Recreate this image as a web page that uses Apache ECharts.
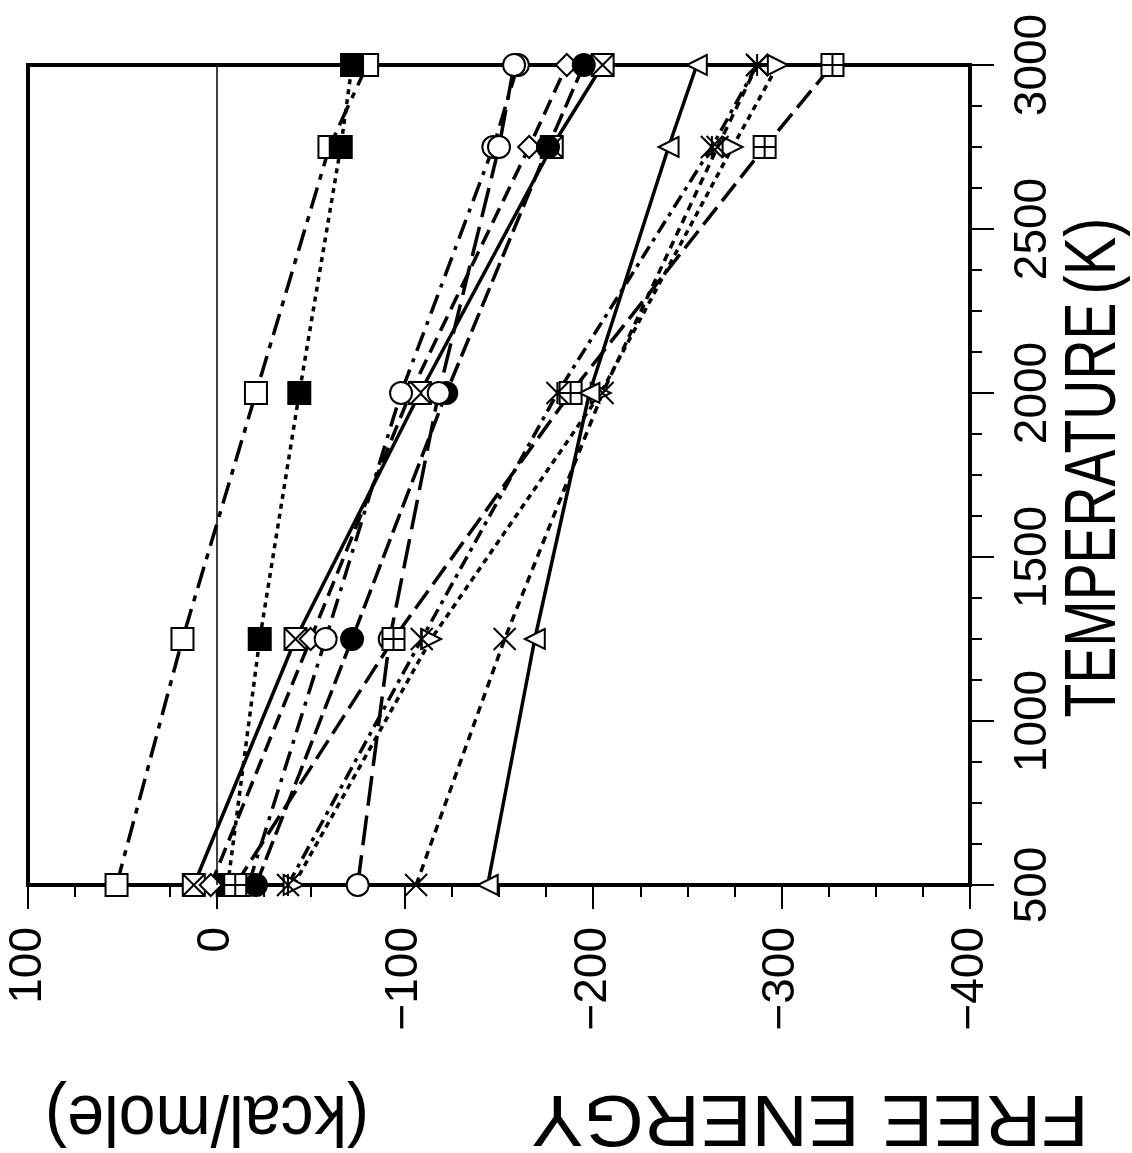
<!DOCTYPE html>
<html>
<head>
<meta charset="utf-8">
<script src="https://cdn.jsdelivr.net/npm/echarts@6/dist/echarts.min.js"></script>
<style>
  html, body { margin: 0; padding: 0; background: #fff; }
  #chart { width: 1132px; height: 1153px; }
</style>
</head>
<body>
<div id="chart"></div>
<script>
// temperatures (K) where free energies were computed
const temps = [500, 1250, 2000, 2750, 3000];

// free energy (kcal/mole) per curve
const openSquare   = [53, 18, -21, -60, -80];
const filledSquare = [-6, -23, -44, -66, -72];
const crossSquare  = [12, -42, -108, -178, -205];
const diamondE     = [3, -50, -103, -166, -186];
const openCircle   = [-17, -58, -98, -147, -160];
const filledCircle = [-21, -72, -122, -176, -195];
const ringCircle   = [-75, -92, -118, -150, -158];
const plusSquare   = [-10, -94, -188, -291, -327];
const triRight     = [-41, -114, -204, -274, -298];
const plusMark     = [-38, -109, -181, -263, -287];
const crossMark    = [-106, -153, -205, -266, -287];
const triLeft      = [-144, -169, -198, -240, -255];

const energyTicks = [100, 0, -100, -200, -300, -400];

const FONT = '"Liberation Sans", Arial, sans-serif';

function pts(vals) {
  return temps.map((t, i) => [vals[i], t]);
}

function curve(name, vals, symbol, fill, dash, size) {
  return {
    name: name,
    type: 'line',
    data: pts(vals),
    symbol: symbol,
    symbolSize: size || 22,
    clip: false,
    lineStyle: { color: '#000', width: 3.5, type: dash },
    itemStyle: { color: fill, borderColor: '#000', borderWidth: 2 }
  };
}

const SQ_X = 'path://M0,0L10,0L10,10L0,10Z M0,0L10,10 M10,0L0,10';
const SQ_P = 'path://M0,0L10,0L10,10L0,10Z M5,0L5,10 M0,5L10,5';
const TRI_R = 'path://M0,0L10,5L0,10Z';
const TRI_L = 'path://M10,0L0,5L10,10Z';
const XMARK = 'path://M0,0L10,10M10,0L0,10';
const STAR = 'path://M0,0L10,10M10,0L0,10M5,0L5,10';

const series = [
  curve('open square', openSquare, 'rect', '#fff', [22, 8, 6, 8]),
  curve('filled square', filledSquare, 'rect', '#000', [5, 5]),
  curve('crossed square', crossSquare, SQ_X, '#fff', 'solid'),
  curve('diamond', diamondE, 'diamond', '#fff', [16, 8]),
  curve('open circle', openCircle, 'circle', '#fff', [20, 8, 4, 8]),
  curve('filled circle', filledCircle, 'circle', '#000', [20, 7]),
  curve('ring circle', ringCircle, 'circle', '#fff', [30, 10]),
  curve('plus square', plusSquare, SQ_P, '#fff', [22, 8]),
  curve('triangle right', triRight, TRI_R, '#fff', [6, 5], 20),
  curve('star', plusMark, STAR, '#fff', [14, 6, 4, 6], 22),
  curve('cross', crossMark, XMARK, '#fff', [8, 6], 22),
  curve('triangle left', triLeft, TRI_L, '#fff', 'solid', 20)
];

// thin zero line
series[0].markLine = {
  silent: true,
  symbol: 'none',
  label: { show: false },
  lineStyle: { color: '#000', width: 1.5, type: 'solid' },
  data: [{ xAxis: 0 }]
};

const chart = echarts.init(document.getElementById('chart'));
const option = {
  backgroundColor: '#fff',
  animation: false,
  grid: {
    left: 28, right: 162, top: 65, bottom: 268,
    show: true, borderColor: '#000', borderWidth: 4
  },
  xAxis: {
    type: 'value',
    min: -400, max: 100, interval: 100,
    inverse: true,
    position: 'bottom',
    axisLine: { show: true, onZero: false, lineStyle: { color: '#000', width: 4 } },
    axisTick: { show: true, length: 24, lineStyle: { color: '#000', width: 2 } },
    minorTick: { show: true, splitNumber: 4, length: 12, lineStyle: { color: '#000', width: 2 } },
    splitLine: { show: false },
    axisLabel: {
      rotate: 90, margin: 42, fontSize: 46, fontFamily: FONT, color: '#000',
      formatter: v => energyTicks.includes(v) ? (v < 0 ? '\u2212' + Math.abs(v) : String(v)) : ''
    }
  },
  yAxis: {
    type: 'value',
    min: 500, max: 3000, interval: 500,
    position: 'right',
    axisLine: { show: true, onZero: false, lineStyle: { color: '#000', width: 4 } },
    axisTick: { show: true, length: 24, lineStyle: { color: '#000', width: 2 } },
    minorTick: { show: true, splitNumber: 4, length: 12, lineStyle: { color: '#000', width: 2 } },
    splitLine: { show: false },
    axisLabel: {
      rotate: 90, margin: 40, fontSize: 46, fontFamily: FONT, color: '#000',
      formatter: v => String(v)
    }
  },
  graphic: [
    {
      type: 'text', x: 1095, y: 510, rotation: Math.PI / 2, scaleX: 0.77,
      style: {
        text: 'TEMPERATURE', font: '72px ' + FONT, fill: '#000',
        textAlign: 'center', textVerticalAlign: 'middle'
      }
    },
    {
      type: 'text', x: 1095, y: 256, rotation: Math.PI / 2, scaleX: 0.8,
      style: {
        text: '(K)', font: '72px ' + FONT, fill: '#000',
        textAlign: 'center', textVerticalAlign: 'middle'
      }
    },
    {
      type: 'text', x: 810, y: 1116, rotation: Math.PI, scaleX: 1.08,
      style: {
        text: 'FREE ENERGY', font: '72px ' + FONT, fill: '#000',
        textAlign: 'center', textVerticalAlign: 'middle'
      }
    },
    {
      type: 'text', x: 207, y: 1116, rotation: Math.PI, scaleX: 0.92,
      style: {
        text: '(kcal/mole)', font: '72px ' + FONT, fill: '#000',
        textAlign: 'center', textVerticalAlign: 'middle'
      }
    }
  ],
  series: series
};
chart.setOption(option);
</script>
</body>
</html>
